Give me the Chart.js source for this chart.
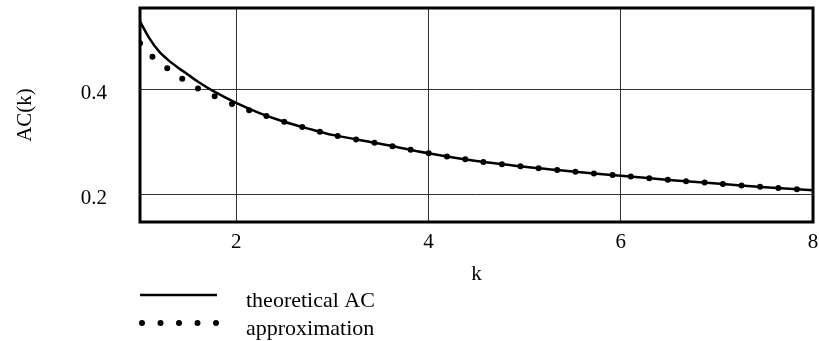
<!DOCTYPE html>
<html>
<head>
<meta charset="utf-8">
<script src="https://cdn.jsdelivr.net/npm/chart.js@4.4.0/dist/chart.umd.min.js"></script>
<style>
  html, body { margin: 0; padding: 0; background: #fff; }
  #wrap { width: 819px; height: 341px; position: relative; }
</style>
</head>
<body>
<div id="wrap"><canvas id="graph"></canvas></div>
<script>
// values
const kValues = [1, 1.1, 1.2, 1.3, 1.4, 1.5, 1.6, 1.75, 2, 2.25, 2.5, 2.75, 3, 3.5, 4, 4.5, 5, 5.5, 6, 6.5, 7, 7.5, 8];
const theoreticalAC = [0.530, 0.497, 0.472, 0.455, 0.441, 0.428, 0.415, 0.398, 0.374, 0.354, 0.338, 0.325, 0.313, 0.296, 0.278, 0.263, 0.252, 0.243, 0.235, 0.227, 0.220, 0.213, 0.207];
const approximation = [0.488, 0.467, 0.452, 0.438, 0.425, 0.413, 0.402, 0.389, 0.369, 0.353, 0.338, 0.325, 0.313, 0.296, 0.278, 0.263, 0.252, 0.243, 0.235, 0.227, 0.220, 0.213, 0.207];
const xTicks = [2, 4, 6, 8];
const yTicks = [0.2, 0.4];
const seriesNames = ['theoretical AC', 'approximation'];

const FONT = { family: '"Liberation Serif", "Times New Roman", serif', size: 21 };

const toPoints = (ys) => kValues.map((k, i) => ({ x: k, y: ys[i] }));

// frame round the plot + the legend under the axis
const framePlugin = {
    id: 'frame',
    afterDatasetsDraw(chart) {
        const { ctx, chartArea: a } = chart;
        ctx.save();
        ctx.strokeStyle = '#000';
        ctx.lineWidth = 3;
        ctx.strokeRect(a.left, a.top, a.right - a.left, a.bottom - a.top);
        ctx.restore();
    },
    afterDraw(chart) {
        const { ctx, chartArea: a } = chart;
        ctx.save();
        chart.data.datasets.forEach((ds, i) => {
            const y = a.bottom + 73 + i * 28;
            ctx.beginPath();
            ctx.strokeStyle = ds.borderColor;
            ctx.lineWidth = ds.borderWidth;
            ctx.lineCap = ds.borderCapStyle || 'butt';
            ctx.setLineDash(ds.borderDash || []);
            ctx.moveTo(a.left + (ds.borderDash ? 2 : 0), y);
            ctx.lineTo(a.left + 77, y);
            ctx.stroke();
            ctx.setLineDash([]);
            ctx.fillStyle = '#000';
            ctx.font = '22px ' + FONT.family;
            ctx.textBaseline = 'alphabetic';
            ctx.fillText(ds.label, a.left + 106, y + 12);
        });
        ctx.restore();
    }
};

const data = {
    datasets: [
        {
            label: seriesNames[0],
            data: toPoints(theoreticalAC),
            borderColor: '#000',
            borderWidth: 2.5,
            pointRadius: 0,
            tension: 0.3,
        },
        {
            label: seriesNames[1],
            data: toPoints(approximation),
            borderColor: '#000',
            borderWidth: 6,
            borderDash: [0, 18.5],
            borderCapStyle: 'round',
            pointRadius: 0,
            tension: 0.3,
        },
    ]
};

const config = {
    type: 'line',
    data: data,
    options: {
        responsive: true,
        maintainAspectRatio: false,
        animation: false,
        events: [],
        layout: { padding: { left: 0, right: 6, top: 8, bottom: 54 } },
        scales: {
            x: {
                type: 'linear',
                min: 1,
                max: 8,
                afterBuildTicks: (s) => { s.ticks = xTicks.map(v => ({ value: v })); },
                afterFit: (s) => { s.height = 65; s.paddingLeft = 0; s.paddingRight = 0; },
                grid: { color: '#333', lineWidth: 1, drawTicks: false },
                border: { display: false },
                ticks: { color: '#000', font: FONT, padding: 8, maxRotation: 0 },
                title: { display: true, text: 'k', color: '#000', font: FONT, padding: 0 },
            },
            y: {
                min: 0.1465,
                max: 0.5555,
                afterBuildTicks: (s) => { s.ticks = yTicks.map(v => ({ value: v })); },
                afterFit: (s) => { s.width = 140; s.paddingTop = 0; s.paddingBottom = 0; },
                grid: { color: '#333', lineWidth: 1, drawTicks: false },
                border: { display: false },
                ticks: { color: '#000', font: FONT, padding: 33, labelOffset: 4, callback: (v) => v.toFixed(1) },
                title: { display: true, text: 'AC(k)', color: '#000', font: FONT, padding: { top: 13, bottom: 0 } },
            }
        },
        plugins: {
            legend: { display: false },
            tooltip: { enabled: false },
        }
    },
    plugins: [framePlugin]
};

const chart = new Chart(document.getElementById('graph'), config);
</script>
</body>
</html>
